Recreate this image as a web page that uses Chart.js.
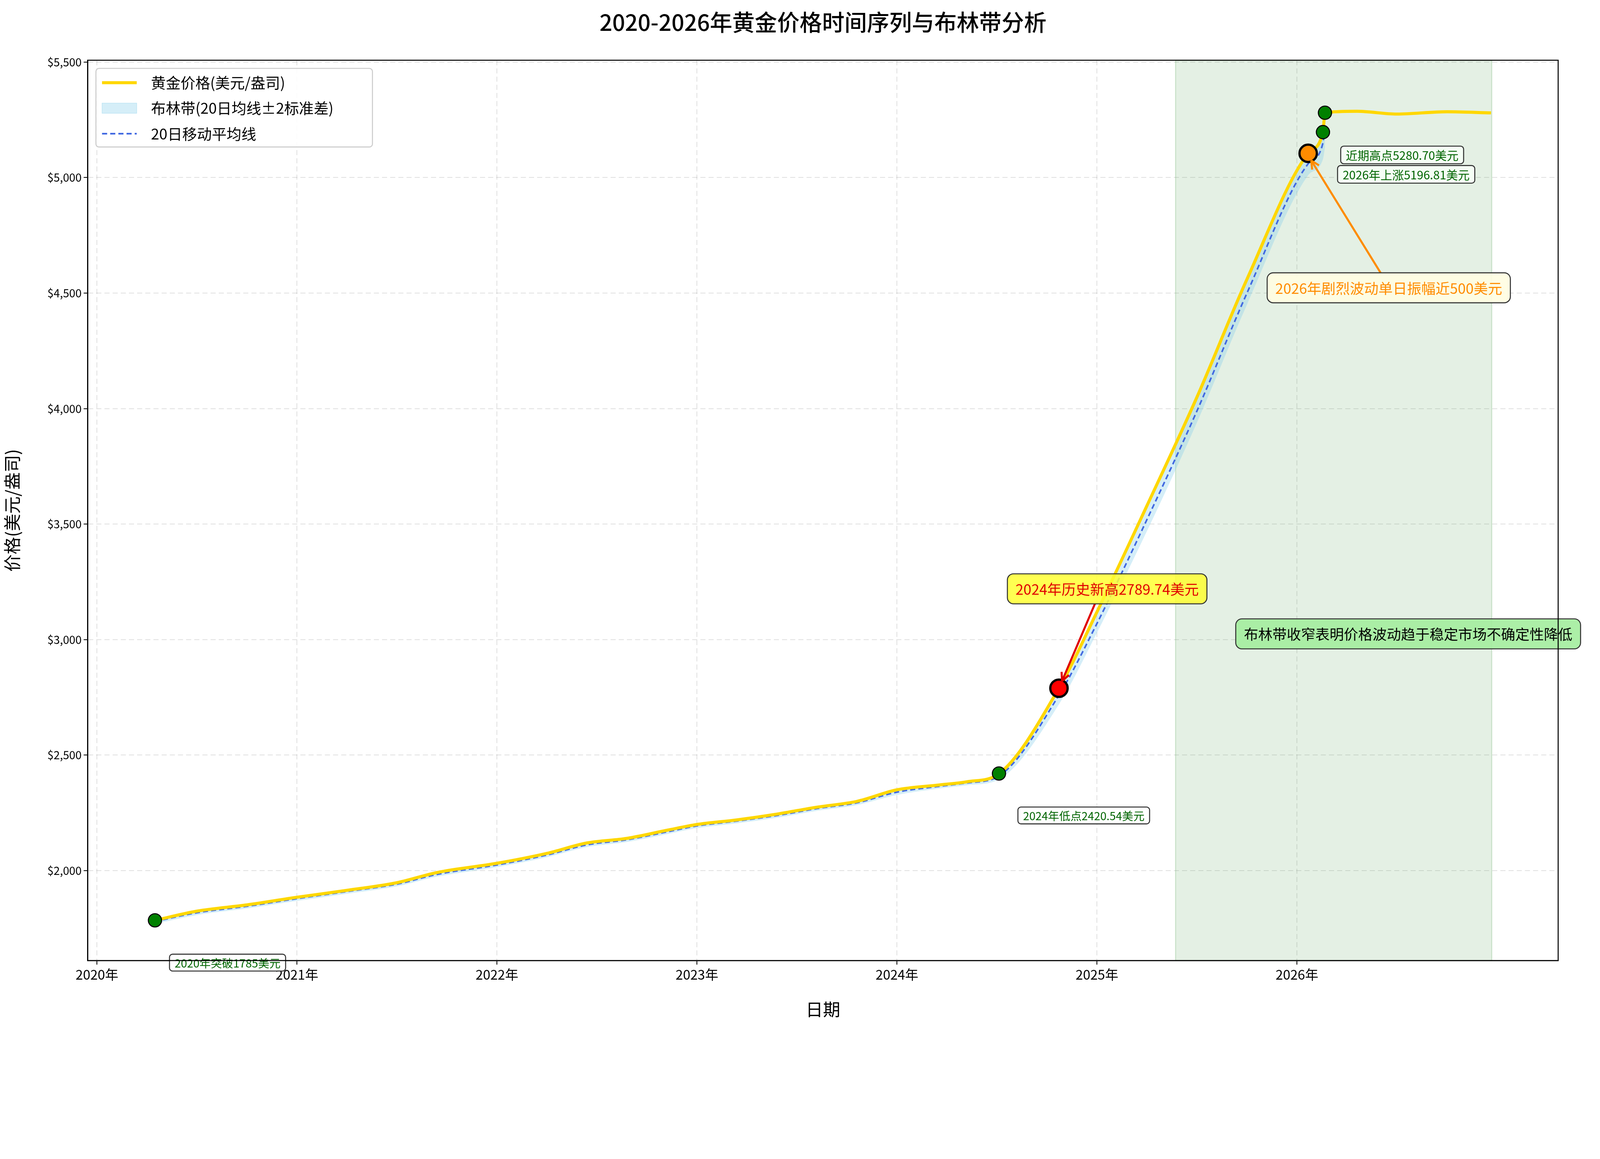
<!DOCTYPE html>
<html><head><meta charset="utf-8">
<script src="https://cdn.jsdelivr.net/npm/chart.js@4.4.1/dist/chart.umd.min.js"></script>
<style>html,body{margin:0;padding:0;background:#fff;overflow:hidden}canvas{display:block}</style>
</head><body>
<canvas id="c"></canvas>
<script>
const F = "'Noto Sans CJK SC','DejaVu Sans',sans-serif";
const W = window.innerWidth, H = Math.round(W*2966/4648);
const S = W/1568;
const cv=document.getElementById('c');cv.style.width=W+'px';cv.style.height=H+'px';
// data
const dates = [2020.29,2020.5,2020.75,2021.0,2021.25,2021.5,2021.7,2022.0,2022.25,2022.45,2022.65,2022.85,2023.0,2023.2,2023.4,2023.6,2023.8,2024.0,2024.2,2024.35,2024.51,2024.81,2025.0,2025.25,2025.5,2025.75,2026.056,2026.13,2026.14,2026.3,2026.5,2026.75,2026.97];
const price = [1785,1825,1852,1885,1915,1948,1992,2032,2075,2120,2140,2175,2200,2220,2245,2275,2300,2350,2370,2385,2420,2790,3120,3580,4050,4560,5105,5197,5281,5287,5275,5285,5280];
const ma    = [1780,1818,1846,1879,1910,1942,1984,2025,2068,2112,2134,2168,2194,2215,2239,2269,2294,2340,2364,2380,2410,2760,3070,3520,3990,4500,5060,5150,5230,null,null,null,null];
const upper = [1790,1828,1856,1889,1920,1952,1994,2035,2078,2122,2144,2178,2204,2225,2249,2279,2304,2352,2374,2390,2425,2800,3110,3570,4040,4550,5110,5230,5330,null,null,null,null];
const lower = [1770,1808,1836,1869,1900,1932,1974,2015,2058,2102,2124,2158,2184,2205,2229,2259,2284,2328,2354,2370,2395,2720,3030,3470,3940,4450,5010,5080,5130,null,null,null,null];
const yearTicks = [2020,2021,2022,2023,2024,2025,2026];
const priceTicks = [2000,2500,3000,3500,4000,4500,5000,5500];
const greenPts = [[2020.29,1785],[2024.51,2420.54],[2026.13,5196.81],[2026.14,5280.70]];
const redPt = [[2024.81,2789.74]];
const orangePt = [[2026.056,5105]];
const shade = [2025.393,2026.974];

const xy = (xs, ys) => xs.map((x,i)=>({x, y: ys[i]}));
const notes = [
  {t:'2020年突破1785美元', x:2020.653, y:1602, fc:'#006400', bg:'#ffffff', fs:11},
  {t:'2024年低点2420.54美元', x:2024.934, y:2239, fc:'#006400', bg:'#ffffff', fs:11},
  {t:'2024年历史新高2789.74美元', x:2025.051, y:3220, fc:'#e00000', bg:'#ffff33', fs:14, arrow:[2024.81,2789.74,'#e00000']},
  {t:'布林带收窄表明价格波动趋于稳定市场不确定性降低', x:2026.556, y:3025, fc:'#000', bg:'#a5eea0', fs:14},
  {t:'2026年剧烈波动单日振幅近500美元', x:2026.459, y:4523, fc:'#ff8c00', bg:'#fffde2', fs:14, arrow:[2026.056,5105,'#ff8c00']},
  {t:'近期高点5280.70美元', x:2026.526, y:5098, fc:'#006400', bg:'#f6fff6', fs:11.5},
  {t:'2026年上涨5196.81美元', x:2026.546, y:5014, fc:'#006400', bg:'#f6fff6', fs:11.5},
];
function rr(ctx,x,y,w,h,r){ctx.beginPath();ctx.moveTo(x+r,y);ctx.arcTo(x+w,y,x+w,y+h,r);ctx.arcTo(x+w,y+h,x,y+h,r);ctx.arcTo(x,y+h,x,y,r);ctx.arcTo(x,y,x+w,y,r);ctx.closePath();}
const plug = {
  id:'extra',
  beforeDatasetsDraw(ch){
    const {ctx,scales:{x,y},chartArea:a}=ch;
    ctx.save();ctx.fillStyle='rgba(46,139,46,0.13)';
    const l=x.getPixelForValue(shade[0]),r=x.getPixelForValue(shade[1]);
    ctx.fillRect(l,a.top,r-l,a.bottom-a.top);
    ctx.strokeStyle='rgba(46,139,46,0.2)';ctx.lineWidth=1*S;ctx.strokeRect(l,a.top,r-l,a.bottom-a.top);
    ctx.restore();
  },
  afterDraw(ch){
    const {ctx,scales:{x,y},chartArea:a}=ch;
    ctx.save();
    ctx.fillStyle='#000';ctx.font=`500 ${22*S}px ${F}`;ctx.textAlign='center';ctx.textBaseline='middle';
    ctx.fillText('2020-2026年黄金价格时间序列与布林带分析',(a.left+a.right)/2,22*S);
    notes.forEach(n=>{
      const cx=x.getPixelForValue(n.x),cy=y.getPixelForValue(n.y);
      ctx.font=`${n.fs*S}px ${F}`;
      const big=n.fs>12;
      const w=ctx.measureText(n.t).width+(big?16:10)*S, h=n.fs*S*(big?2.1:1.5);
      if(n.arrow){
        const px=x.getPixelForValue(n.arrow[0]),py=y.getPixelForValue(n.arrow[1]);
        const below=cy>py;
        const sx=below?cx-8*S:cx-12*S, sy=below?cy-h/2:cy+h/2;
        const ex=px+3*S, ey=py+(below?7*S:-7*S);
        ctx.strokeStyle=n.arrow[2];ctx.lineWidth=2*S;
        ctx.beginPath();ctx.moveTo(sx,sy);ctx.lineTo(ex,ey);ctx.stroke();
        const ang=Math.atan2(ey-sy,ex-sx);
        ctx.beginPath();ctx.moveTo(ex,ey);
        ctx.lineTo(ex-9*S*Math.cos(ang-0.45),ey-9*S*Math.sin(ang-0.45));
        ctx.moveTo(ex,ey);ctx.lineTo(ex-9*S*Math.cos(ang+0.45),ey-9*S*Math.sin(ang+0.45));ctx.stroke();
      }
      rr(ctx,cx-w/2,cy-h/2,w,h,(big?6:3)*S);
      ctx.fillStyle=n.bg;ctx.globalAlpha=n.bg=='#ffff33'?0.85:0.92;ctx.fill();ctx.globalAlpha=1;
      ctx.strokeStyle='#333';ctx.lineWidth=1*S;ctx.stroke();
      ctx.fillStyle=n.fc;ctx.textAlign='center';ctx.textBaseline='middle';ctx.fillText(n.t,cx,cy+0.5*S);
    });
    const lx=a.left+8*S, ly=a.top+8*S, lw=271*S, lh=77*S;
    rr(ctx,lx,ly,lw,lh,3*S);ctx.fillStyle='rgba(255,255,255,0.85)';ctx.fill();
    ctx.strokeStyle='#ccc';ctx.lineWidth=1*S;ctx.stroke();
    ctx.font=`${14.5*S}px ${F}`;ctx.textAlign='left';ctx.textBaseline='middle';
    const rows=['黄金价格(美元/盎司)','布林带(20日均线±2标准差)','20日移动平均线'];
    rows.forEach((t,i)=>{
      const ry=ly+(14+25*i)*S, x0=lx+6*S, x1=lx+40*S;
      if(i==0){ctx.strokeStyle='#FFD700';ctx.lineWidth=3*S;ctx.beginPath();ctx.moveTo(x0,ry);ctx.lineTo(x1,ry);ctx.stroke();}
      if(i==1){ctx.fillStyle='rgba(135,206,235,0.35)';ctx.fillRect(x0,ry-5*S,x1-x0,10*S);ctx.strokeStyle='rgba(135,206,235,0.6)';ctx.lineWidth=1;ctx.strokeRect(x0,ry-5*S,x1-x0,10*S);}
      if(i==2){ctx.strokeStyle='#4169E1';ctx.lineWidth=1.6*S;ctx.setLineDash([5*S,3*S]);ctx.beginPath();ctx.moveTo(x0,ry);ctx.lineTo(x1,ry);ctx.stroke();ctx.setLineDash([]);}
      ctx.fillStyle='#000';ctx.fillText(t,lx+54*S,ry);
    });
    ctx.restore();
  }
};
new Chart(cv,{
  type:'line',
  data:{datasets:[
    {label:'upper',data:xy(dates,upper),borderWidth:0,pointRadius:0,fill:false,cubicInterpolationMode:'monotone',order:5},
    {label:'布林带',data:xy(dates,lower),borderWidth:0,pointRadius:0,fill:'-1',backgroundColor:'rgba(135,206,235,0.35)',cubicInterpolationMode:'monotone',order:5},
    {label:'20日移动平均线',data:xy(dates,ma),borderColor:'#4169E1',borderWidth:1.6*S,borderDash:[5*S,3*S],pointRadius:0,cubicInterpolationMode:'monotone',order:3},
    {label:'黄金价格',data:xy(dates,price),borderColor:'#FFD700',borderWidth:3*S,pointRadius:0,cubicInterpolationMode:'monotone',order:2},
    {type:'scatter',data:greenPts.map(p=>({x:p[0],y:p[1]})),backgroundColor:'#008000',borderColor:'#000',borderWidth:1*S,pointRadius:6.5*S,order:1},
    {type:'scatter',data:redPt.map(p=>({x:p[0],y:p[1]})),backgroundColor:'#ff0000',borderColor:'#000',borderWidth:2.2*S,pointRadius:8.5*S,order:1},
    {type:'scatter',data:orangePt.map(p=>({x:p[0],y:p[1]})),backgroundColor:'#ff8c00',borderColor:'#000',borderWidth:2.2*S,pointRadius:8.5*S,order:1},
  ]},
  options:{
    responsive:false,animation:false,
    layout:{padding:{top:59*S,right:41*S,left:0,bottom:0}},
    plugins:{legend:{display:false},tooltip:{enabled:false},title:{display:false}},
    scales:{
      x:{type:'linear',min:2019.954,max:2027.306,
        afterBuildTicks(s){s.ticks=yearTicks.map(v=>({value:v}));},
        afterFit(s){s.height=H-941*S;},
        ticks:{callback:v=>v+'年',color:'#000',font:{family:F,size:13*S},padding:2*S,maxRotation:0},
        grid:{color:'rgba(0,0,0,0.12)',lineWidth:0.8*S,tickColor:'#000',tickLength:4*S},
        border:{color:'#000',width:1*S,dash:[5*S,3*S]},
        title:{display:true,text:'日期',color:'#000',font:{family:F,size:17*S},padding:{top:0}}},
      y:{min:1611,max:5508,
        afterBuildTicks(s){s.ticks=priceTicks.map(v=>({value:v}));},
        afterFit(s){s.width=86*S;},
        ticks:{callback:v=>'$'+v.toLocaleString('en-US'),color:'#000',font:{family:F,size:11*S},padding:2*S},
        grid:{color:'rgba(0,0,0,0.12)',lineWidth:0.8*S,tickColor:'#000',tickLength:4*S},
        border:{color:'#000',width:1*S,dash:[5*S,3*S]},
        title:{display:true,text:'价格(美元/盎司)',color:'#000',font:{family:F,size:17*S},padding:{bottom:4*S}}}
    }
  },
  plugins:[plug,{id:'frame',afterDraw(ch){const {ctx,chartArea:a}=ch;ctx.save();ctx.strokeStyle='#000';ctx.lineWidth=1*S;ctx.strokeRect(a.left,a.top,a.right-a.left,a.bottom-a.top);ctx.restore();}}]
});
</script>
</body></html>
